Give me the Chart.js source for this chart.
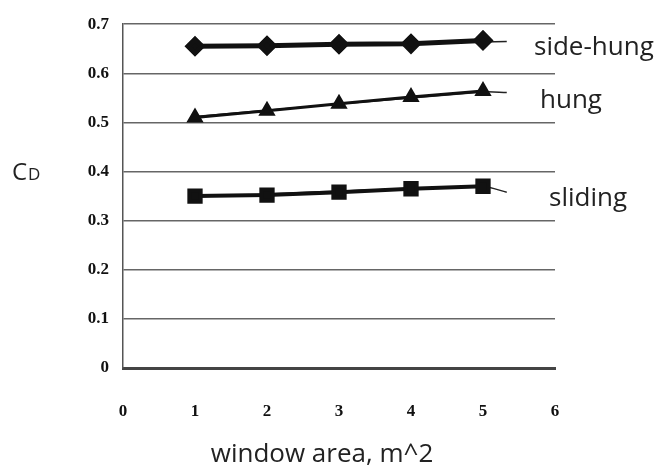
<!DOCTYPE html>
<html>
<head>
<meta charset="utf-8">
<script src="https://cdn.jsdelivr.net/npm/chart.js@4"></script>
<style>
  html, body { margin: 0; padding: 0; background: #fff; }
  #wrap { width: 665px; height: 474px; }
</style>
</head>
<body>
<div id="wrap"><canvas id="myChart"></canvas></div>
<script>
// window area, m^2
const areas = [1, 2, 3, 4, 5];
const sideHung = [0.655, 0.656, 0.659, 0.66, 0.667];
const hung = [0.51, 0.524, 0.538, 0.552, 0.564];
const sliding = [0.35, 0.352, 0.358, 0.365, 0.37];

// thin fitted lines drawn over the points
const trendX = [1, 5, 5.33];
const sideHungTrend = [0.654, 0.664, 0.665];
const hungTrend = [0.512, 0.562, 0.561];
const slidingTrend = [0.349, 0.369, 0.358];

const xTicks = [0, 1, 2, 3, 4, 5, 6];
const yTicks = [0, 0.1, 0.2, 0.3, 0.4, 0.5, 0.6, 0.7];
const seriesLabels = ['side-hung', 'hung', 'sliding'];

const pts = (xs, ys) => xs.map((x, i) => ({ x, y: ys[i] }));

const textPlugin = {
  id: 'texts',
  afterDraw(chart) {
    const c = chart.ctx;
    const y = chart.scales.y;
    c.save();
    c.fillStyle = '#222';
    c.textBaseline = 'middle';
    c.textAlign = 'left';
    c.font = '26px "Open Sans", sans-serif';
    c.fillText(seriesLabels[0], 534, y.getPixelForValue(0.652));
    c.fillText(seriesLabels[1], 540, y.getPixelForValue(0.544));
    c.fillText(seriesLabels[2], 549, y.getPixelForValue(0.345));
    c.textAlign = 'center';
    c.fillText('window area, m^2', 322, 455);
    // C with small-cap D
    c.textAlign = 'left';
    c.font = '24px "Open Sans", sans-serif';
    c.fillText('C', 12, 173);
    c.font = '17px "Open Sans", sans-serif';
    c.fillText('D', 28, 175);
    c.restore();
  }
};

const data = {
  datasets: [
    {
      label: 'side-hung',
      data: pts(areas, sideHung),
      borderColor: '#111',
      backgroundColor: '#111',
      borderWidth: 5,
      pointStyle: 'rectRot',
      pointRadius: 7
    },
    {
      label: 'hung',
      data: pts(areas, hung),
      borderColor: '#111',
      backgroundColor: '#111',
      borderWidth: 3,
      pointStyle: 'triangle',
      pointRadius: 7
    },
    {
      label: 'sliding',
      data: pts(areas, sliding),
      borderColor: '#111',
      backgroundColor: '#111',
      borderWidth: 4,
      pointStyle: 'rect',
      pointRadius: 8
    },
    { data: pts(trendX, sideHungTrend), borderColor: '#222', borderWidth: 1.5, pointRadius: 0, tension: 0.3 },
    { data: pts(trendX, hungTrend), borderColor: '#222', borderWidth: 1.5, pointRadius: 0, tension: 0.3 },
    { data: pts(trendX, slidingTrend), borderColor: '#222', borderWidth: 1.5, pointRadius: 0, tension: 0.3 }
  ]
};

const tickFont = { family: '"Liberation Serif", serif', size: 17, weight: 'bold' };

new Chart(document.getElementById('myChart'), {
  type: 'scatter',
  data,
  plugins: [textPlugin],
  options: {
    responsive: true,
    maintainAspectRatio: false,
    animation: false,
    showLine: true,
    layout: { padding: { top: 20, right: 110, left: 0, bottom: 0 } },
    scales: {
      x: {
        type: 'linear',
        min: 0,
        max: 6,
        afterBuildTicks: s => { s.ticks = xTicks.map(v => ({ value: v })); },
        afterFit: s => { s.height = 106; },
        grid: { display: false, drawTicks: false },
        border: { display: true, color: '#444', width: 3 },
        ticks: { color: '#111', font: tickFont, padding: 33, callback: v => v }
      },
      y: {
        min: 0,
        max: 0.7,
        afterBuildTicks: s => { s.ticks = yTicks.map(v => ({ value: v })); },
        afterFit: s => { s.width = 123; },
        grid: { color: '#666', lineWidth: 1.5, drawTicks: false },
        border: { display: true, color: '#555', width: 1.5 },
        ticks: {
          color: '#111',
          font: tickFont,
          padding: 14,
          callback: v => (v === 0 ? '0' : v.toFixed(1))
        }
      }
    },
    plugins: {
      legend: { display: false },
      tooltip: { enabled: false }
    }
  }
});
</script>
</body>
</html>
